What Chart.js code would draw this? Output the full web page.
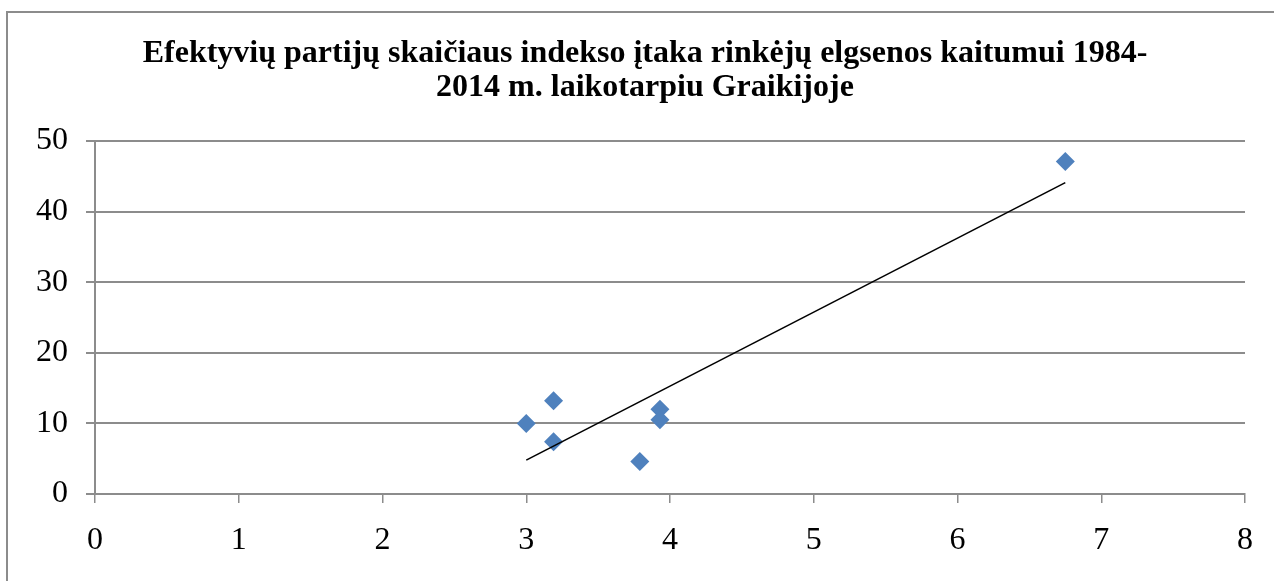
<!DOCTYPE html>
<html>
<head>
<meta charset="utf-8">
<script src="https://cdn.jsdelivr.net/npm/chart.js@4"></script>
<style>
html,body{margin:0;padding:0;background:#fff;}
#wrap{width:1274px;height:581px;position:relative;}
</style>
</head>
<body>
<div id="wrap"><canvas id="c" width="1274" height="581"></canvas></div>
<script>
const titleLines = ["Efektyvių partijų skaičiaus indekso įtaka rinkėjų elgsenos kaitumui 1984-", "2014 m. laikotarpiu Graikijoje"];
const enpValues = [3.0, 3.19, 3.19, 3.79, 3.93, 3.93, 6.75];
const volatilityValues = [10.0, 13.2, 7.4, 4.6, 12.0, 10.5, 47.1];
const trendX = [3.0, 6.75];
const trendY = [4.8, 44.1];
const xTicks = [0, 1, 2, 3, 4, 5, 6, 7, 8];
const yTicks = [0, 10, 20, 30, 40, 50];

const points = enpValues.map((x, i) => ({x: x, y: volatilityValues[i]}));
const trend = trendX.map((x, i) => ({x: x, y: trendY[i]}));

const frame = {
  id: 'frame',
  beforeDraw(chart) {
    const ctx = chart.ctx;
    ctx.save();
    ctx.fillStyle = '#fff';
    ctx.fillRect(0, 0, chart.width, chart.height);
    ctx.strokeStyle = '#8c8c8c';
    ctx.lineWidth = 2;
    ctx.strokeRect(7, 12, 1300, 620);
    ctx.restore();
  },
  afterDraw(chart) {
    const ctx = chart.ctx;
    ctx.save();
    ctx.fillStyle = '#000';
    ctx.font = "bold 32px 'Liberation Serif', 'Times New Roman', serif";
    ctx.textAlign = 'center';
    ctx.textBaseline = 'alphabetic';
    const baselines = [62, 96];
    titleLines.forEach((t, i) => ctx.fillText(t, 645, baselines[i]));
    ctx.restore();
  }
};

const gridColor = '#8c8c8c';
const tickFont = {family: "'Liberation Serif', 'Times New Roman', serif", size: 32};

new Chart(document.getElementById('c'), {
  type: 'scatter',
  data: {
    datasets: [
      {
        label: 'Taškai',
        data: points,
        pointStyle: 'rectRot',
        pointRadius: 9.5,
        pointHoverRadius: 9.5,
        backgroundColor: '#4F81BD',
        borderColor: '#4F81BD',
        borderWidth: 0,
        order: 1
      },
      {
        label: 'Tendencija',
        type: 'line',
        data: trend,
        borderColor: '#000',
        borderWidth: 1.6,
        pointRadius: 0,
        fill: false,
        order: 0
      }
    ]
  },
  options: {
    responsive: false,
    animation: false,
    devicePixelRatio: 1,
    layout: {padding: {left: 0, right: 29, top: 141, bottom: 0}},
    plugins: {
      legend: {display: false},
      tooltip: {enabled: false},
      title: {display: false}
    },
    scales: {
      x: {
        type: 'linear',
        min: 0, max: 8,
        afterBuildTicks(scale) { scale.ticks = xTicks.map(v => ({value: v})); },
        afterFit(scale) { scale.height = 87; },
        ticks: {color: '#000', font: tickFont, padding: 18, maxRotation: 0, autoSkip: false},
        grid: {display: true, drawOnChartArea: false, drawTicks: true, tickLength: 9, color: gridColor, lineWidth: 1.5},
        border: {display: true, color: gridColor, width: 2}
      },
      y: {
        type: 'linear',
        min: 0, max: 50,
        afterBuildTicks(scale) { scale.ticks = yTicks.map(v => ({value: v})); },
        afterFit(scale) { scale.width = 95; },
        ticks: {color: '#000', font: tickFont, padding: 18, autoSkip: false},
        grid: {display: true, drawOnChartArea: true, drawTicks: true, tickLength: 9, color: gridColor, lineWidth: 2},
        border: {display: true, color: gridColor, width: 2}
      }
    }
  },
  plugins: [frame]
});
</script>
</body>
</html>
